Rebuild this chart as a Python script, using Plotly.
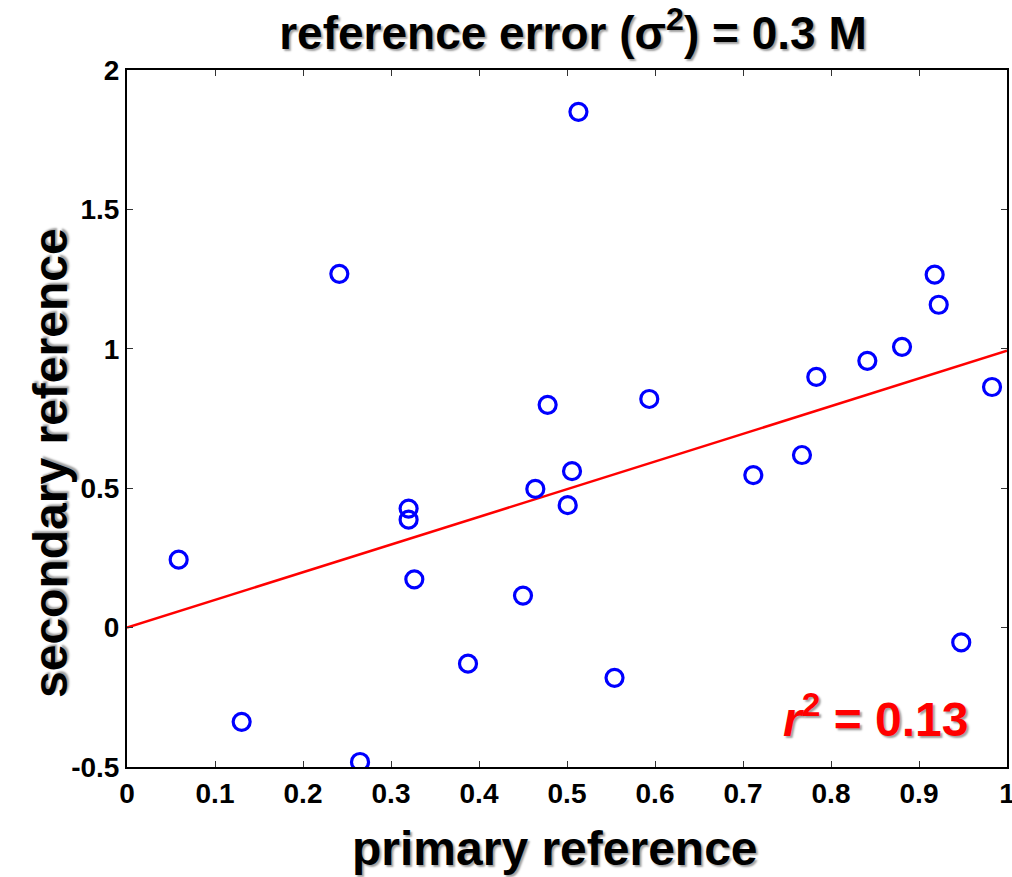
import plotly.graph_objects as go

# data
primary = [0.0587, 0.1303, 0.2413, 0.2648, 0.320, 0.320, 0.3265, 0.3875, 0.450,
           0.464, 0.478, 0.5008, 0.5057, 0.513, 0.554, 0.5935, 0.7117, 0.767,
           0.7833, 0.8413, 0.8807, 0.9178, 0.9224, 0.948, 0.983]
secondary = [0.2435, -0.338, 1.269, -0.482, 0.427, 0.387, 0.173, -0.1295, 0.115,
             0.4975, 0.799, 0.439, 0.561, 1.850, -0.180, 0.820, 0.547, 0.619,
             0.899, 0.957, 1.007, 1.266, 1.158, -0.053, 0.863]
fit_x = [0.0, 1.0]
fit_y = [0.0, 0.993]

x_ticks = [0, 0.1, 0.2, 0.3, 0.4, 0.5, 0.6, 0.7, 0.8, 0.9, 1]
x_tick_labels = ["0", "0.1", "0.2", "0.3", "0.4", "0.5", "0.6", "0.7", "0.8", "0.9", "1"]
y_ticks = [-0.5, 0, 0.5, 1, 1.5, 2]
y_tick_labels = ["-0.5", "0", "0.5", "1", "1.5", "2"]

title_text = "reference error (σ<sup>2</sup>) = 0.3 M"
x_title = "primary reference"
y_title = "secondary reference"
r2_text = "<i>r</i><sup>2</sup> = 0.13"

FONT = "Liberation Sans, Arial, sans-serif"
SHADOW = "2px 2px 2px #a0a0a0"

fig = go.Figure()
fig.add_trace(go.Scatter(
    x=fit_x, y=fit_y, mode="lines",
    line=dict(color="#ff0000", width=2.5), showlegend=False, hoverinfo="skip"))
fig.add_trace(go.Scatter(
    x=primary, y=secondary, mode="markers",
    marker=dict(symbol="circle-open", size=17, color="#0000ff",
                line=dict(width=3.2, color="#0000ff")),
    showlegend=False))

axis_common = dict(
    showgrid=False, zeroline=False, showline=True, linecolor="black", linewidth=2,
    mirror="allticks", ticks="inside", ticklen=6, tickwidth=1, tickcolor="#333",
    ticklabeloverflow="allow", automargin=False,
    tickfont=dict(family=FONT, size=28, color="black", weight="bold"),
)

W, H = 1012, 877
L, R, T, B = 127, 5, 70, 110
pw, ph = W - L - R, H - T - B

def px_x(p):
    return (p - L) / pw

def px_y(p):
    return (H - B - p) / ph

fig.update_layout(
    width=W, height=H,
    margin=dict(l=L, r=R, t=T, b=B, autoexpand=False),
    paper_bgcolor="white", plot_bgcolor="white",
    title=dict(text=title_text, x=573 / W, xanchor="center", y=1 - 33 / H, yanchor="middle",
               font=dict(family=FONT, size=46, color="black", weight="bold", shadow=SHADOW)),
    xaxis=dict(range=[0, 1], tickvals=x_ticks, ticktext=x_tick_labels, **axis_common),
    yaxis=dict(range=[-0.5, 2], tickvals=y_ticks, ticktext=y_tick_labels, **axis_common),
    annotations=[
        dict(text=x_title, xref="paper", yref="paper", x=px_x(555), y=px_y(848),
             xanchor="center", yanchor="middle", showarrow=False,
             font=dict(family=FONT, size=48, color="black", weight="bold", shadow=SHADOW)),
        dict(text=y_title, xref="paper", yref="paper", x=px_x(50), y=px_y(463),
             xanchor="center", yanchor="middle", showarrow=False, textangle=-90,
             font=dict(family=FONT, size=48, color="black", weight="bold", shadow=SHADOW)),
        dict(text=r2_text, xref="paper", yref="paper", x=px_x(971), y=px_y(716),
             xanchor="right", yanchor="middle", showarrow=False,
             font=dict(family=FONT, size=48, color="#ff0000", weight="bold", shadow=SHADOW)),
    ],
)

fig.write_html("out.html")
